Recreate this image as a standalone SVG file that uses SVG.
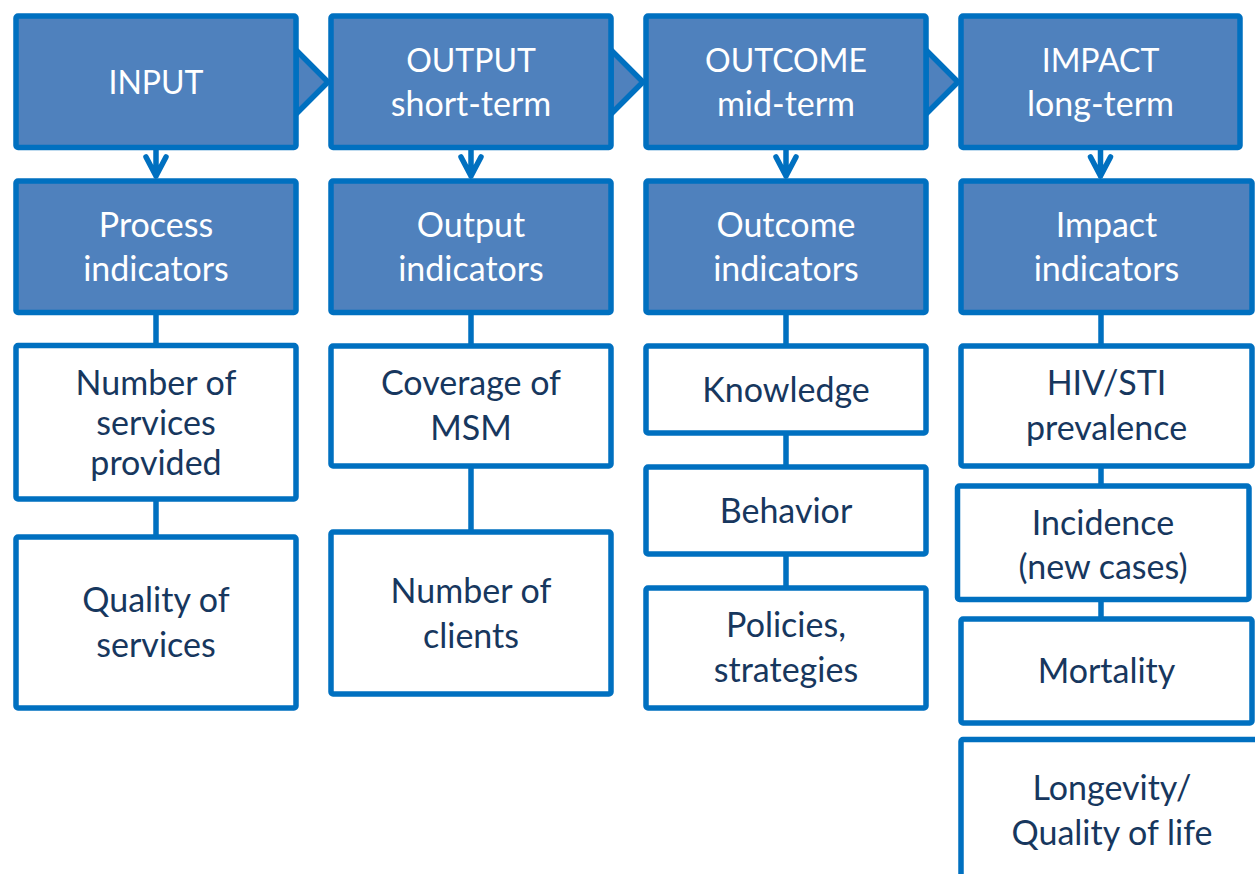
<svg xmlns="http://www.w3.org/2000/svg" width="1255" height="874" viewBox="0 0 1255 874">
  <style>
    .head { fill: #4F81BD; stroke: #0070C0; stroke-width: 5.5; }
    .item { fill: #FFFFFF; stroke: #0070C0; stroke-width: 5.5; }
    .link { fill: none; stroke: #0070C0; stroke-width: 5.5; stroke-linecap: round; stroke-linejoin: round; }
    .tri { fill: #4F81BD; stroke: #0070C0; stroke-width: 5.5; stroke-linejoin: miter; }
    text { font-family: Lato, "Open Sans", sans-serif; font-size: 34px; text-anchor: middle; }
    .caps { font-size: 32px; }
    .w { fill: #FFFFFF; }
    .d { fill: #17375E; }
  </style>
  <rect width="1255" height="874" fill="#FFFFFF"/>

  <g id="connectors">
    <!-- chevrons between the stage headers -->
    <polygon class="tri" points="296,50 328,82 296,114"/>
    <polygon class="tri" points="611,50 643,82 611,114"/>
    <polygon class="tri" points="926,50 958,82 926,114"/>
    <!-- down arrows from stage to indicator type -->
    <path class="link" d="M156,149 V176 M146,157 L156,176 L166,157"/>
    <path class="link" d="M471,149 V176 M461,157 L471,176 L481,157"/>
    <path class="link" d="M786,149 V176 M776,157 L786,176 L796,157"/>
    <path class="link" d="M1100.5,149 V176 M1090.5,157 L1100.5,176 L1110.5,157"/>
    <!-- vertical links between indicator boxes -->
    <path class="link" d="M156,312 V346 M156,499 V537"/>
    <path class="link" d="M471,312 V346 M471,466 V532"/>
    <path class="link" d="M786,312 V346 M786,433 V467 M786,554 V588"/>
    <path class="link" d="M1101,312 V346 M1101,466 V486 M1101,599 V619"/>
  </g>

  <g id="input">
    <rect class="head" x="16" y="16" width="280" height="131.5" rx="2"/>
    <text class="w caps" x="156" y="94">INPUT</text>
  </g>
  <g id="output">
    <rect class="head" x="331" y="16" width="280" height="131.5" rx="2"/>
    <text class="w caps" x="471" y="72">OUTPUT</text>
    <text class="w" x="471" y="116">short-term</text>
  </g>
  <g id="outcome">
    <rect class="head" x="646" y="16" width="280" height="131.5" rx="2"/>
    <text class="w caps" x="786" y="72">OUTCOME</text>
    <text class="w" x="786" y="116">mid-term</text>
  </g>
  <g id="impact">
    <rect class="head" x="961" y="16" width="279" height="131.5" rx="2"/>
    <text class="w caps" x="1100.5" y="72">IMPACT</text>
    <text class="w" x="1100.5" y="116">long-term</text>
  </g>

  <g id="process-indicators">
    <rect class="head" x="16" y="181" width="280" height="131.5" rx="2"/>
    <text class="w" x="156" y="237">Process</text>
    <text class="w" x="156" y="281">indicators</text>
  </g>
  <g id="output-indicators">
    <rect class="head" x="331" y="181" width="280" height="131.5" rx="2"/>
    <text class="w" x="471" y="237">Output</text>
    <text class="w" x="471" y="281">indicators</text>
  </g>
  <g id="outcome-indicators">
    <rect class="head" x="646" y="181" width="280" height="131.5" rx="2"/>
    <text class="w" x="786" y="237">Outcome</text>
    <text class="w" x="786" y="281">indicators</text>
  </g>
  <g id="impact-indicators">
    <rect class="head" x="961" y="181" width="291" height="131.5" rx="2"/>
    <text class="w" x="1106.5" y="237">Impact</text>
    <text class="w" x="1106.5" y="281">indicators</text>
  </g>

  <g id="number-of-services">
    <rect class="item" x="16" y="345.5" width="280" height="153.5" rx="2"/>
    <text class="d" x="156" y="395">Number of</text>
    <text class="d" x="156" y="435">services</text>
    <text class="d" x="156" y="475">provided</text>
  </g>
  <g id="quality-of-services">
    <rect class="item" x="16" y="537" width="280" height="171" rx="2"/>
    <text class="d" x="156" y="612">Quality of</text>
    <text class="d" x="156" y="657">services</text>
  </g>

  <g id="coverage-of-msm">
    <rect class="item" x="331" y="346" width="280" height="120" rx="2"/>
    <text class="d" x="471" y="395">Coverage of</text>
    <text class="d" x="471" y="440">MSM</text>
  </g>
  <g id="number-of-clients">
    <rect class="item" x="331" y="532" width="280" height="162" rx="2"/>
    <text class="d" x="471" y="603">Number of</text>
    <text class="d" x="471" y="648">clients</text>
  </g>

  <g id="knowledge">
    <rect class="item" x="646" y="346" width="280" height="87" rx="2"/>
    <text class="d" x="786" y="402">Knowledge</text>
  </g>
  <g id="behavior">
    <rect class="item" x="646" y="467" width="280" height="87" rx="2"/>
    <text class="d" x="786" y="523">Behavior</text>
  </g>
  <g id="policies-strategies">
    <rect class="item" x="646" y="588" width="280" height="120" rx="2"/>
    <text class="d" x="786" y="637">Policies,</text>
    <text class="d" x="786" y="682">strategies</text>
  </g>

  <g id="hiv-sti-prevalence">
    <rect class="item" x="961" y="346" width="291" height="120" rx="2"/>
    <text class="d" x="1106.5" y="395">HIV/STI</text>
    <text class="d" x="1106.5" y="440">prevalence</text>
  </g>
  <g id="incidence">
    <rect class="item" x="957.5" y="486" width="291.5" height="113.5" rx="2"/>
    <text class="d" x="1103" y="535">Incidence</text>
    <text class="d" x="1103" y="579">(new cases)</text>
  </g>
  <g id="mortality">
    <rect class="item" x="961" y="619" width="291" height="104" rx="2"/>
    <text class="d" x="1106.5" y="683">Mortality</text>
  </g>
  <g id="longevity">
    <rect class="item" x="961" y="739.5" width="302" height="160" rx="2"/>
    <text class="d" x="1112" y="800">Longevity/</text>
    <text class="d" x="1112" y="845">Quality of life</text>
  </g>
</svg>
